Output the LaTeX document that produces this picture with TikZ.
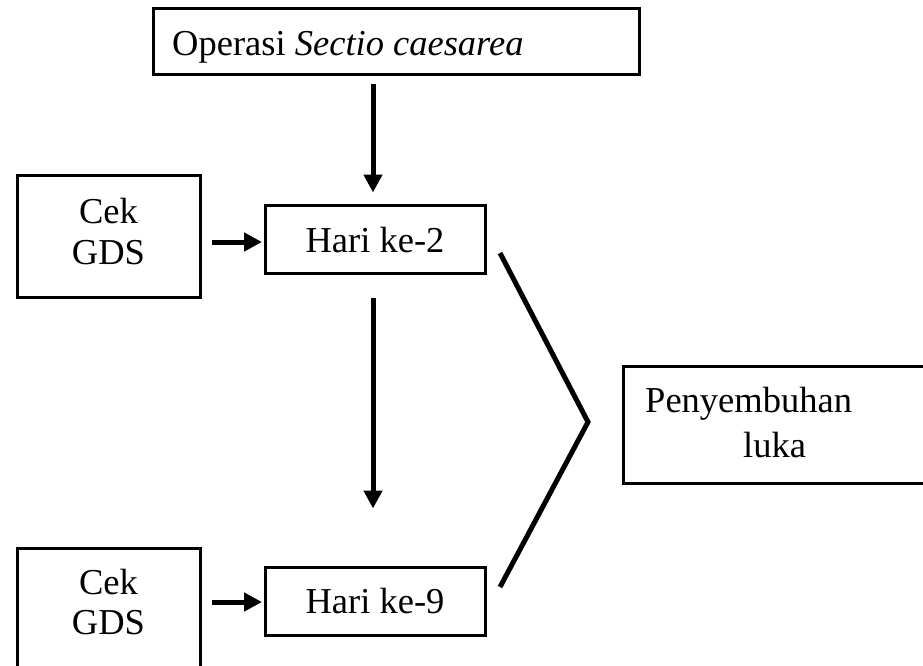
\documentclass[tikz,border=0pt]{standalone}
\usepackage{fontspec}
\setmainfont{Liberation Serif}
\usetikzlibrary{arrows.meta}
\begin{document}
\begin{tikzpicture}[x=1pt,y=-1pt,
  box/.style={draw,line width=3pt,inner sep=0pt},
  txt/.style={inner sep=0pt,anchor=base,font=\fontsize{36.5}{42}\selectfont},
  arr/.style={line width=5pt,-{Triangle[width=18pt,length=18pt]}},
  chev/.style={line width=5pt}]
\useasboundingbox (0,0) rectangle (923,665);
\clip (0,0) rectangle (923,665);
% boxes
\node[box,minimum width=486pt,minimum height=66pt] (top) at (396,41) {};
\node[box,minimum width=183pt,minimum height=122pt] (cek1) at (108.5,236) {};
\node[box,minimum width=220pt,minimum height=68pt] (hari2) at (375,239) {};
\node[box,minimum width=183pt,minimum height=122pt] (cek2) at (108.5,609) {};
\node[box,minimum width=220pt,minimum height=68pt] (hari9) at (375,601) {};
\node[box,minimum width=317pt,minimum height=117pt] (peny) at (781.5,424.5) {};
% texts
\node[txt,anchor=base west] (ttop) at (172,55) {Operasi \textit{Sectio caesarea}};
\node[txt] (tcek1a) at (108.5,223) {Cek};
\node[txt] (tcek1b) at (108.5,264) {GDS};
\node[txt] (thari2) at (375,252) {Hari ke-2};
\node[txt] (tcek2a) at (108.5,594) {Cek};
\node[txt] (tcek2b) at (108.5,634) {GDS};
\node[txt] (thari9) at (375,613) {Hari ke-9};
\node[txt,anchor=base west] (tpeny1) at (645,412) {Penyembuhan};
\node[txt,anchor=base west] (tpeny2) at (743,457) {luka};
% arrows
\draw[arr,shorten <=8pt,shorten >=11pt] ([xshift=-2pt]top.south -| hari2.north) -- ([xshift=-2pt]hari2.north);
\draw[arr,shorten <=23pt,shorten >=57pt] ([xshift=-2pt]hari2.south) -- ([xshift=-2pt]hari9.north);
\draw[arr,shorten <=10pt,shorten >=1.5pt] ([yshift=-3pt]hari2.west -| cek1.east) -- ([yshift=-3pt]hari2.west);
\draw[arr,shorten <=10pt,shorten >=1.5pt] ([yshift=-1pt]hari9.west -| cek2.east) -- ([yshift=-1pt]hari9.west);
% chevron
\coordinate (c1) at (500,253);
\coordinate (c2) at (588,422);
\coordinate (c3) at (500,587);
\draw[chev] (c1) -- (c2) -- (c3);
\end{tikzpicture}
\end{document}
